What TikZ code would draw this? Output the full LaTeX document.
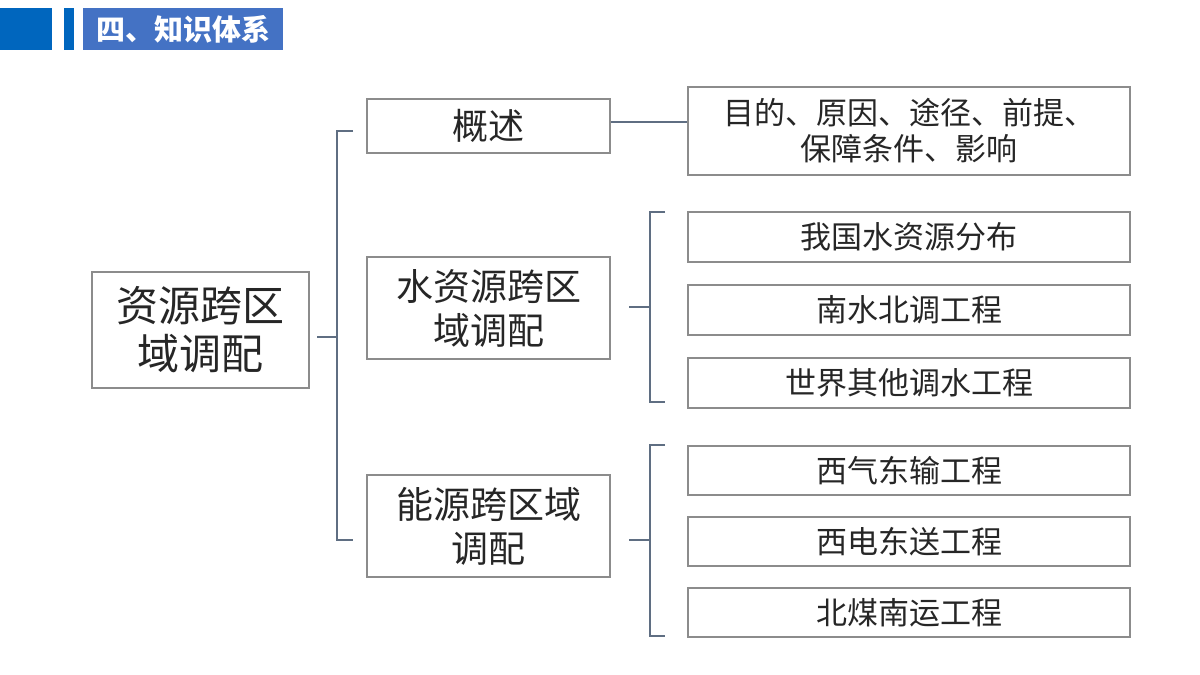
\documentclass[tikz,border=0pt]{standalone}
\usepackage{fontspec}
\setmainfont{Noto Sans CJK SC}
\definecolor{hdr}{RGB}{0,102,190}
\definecolor{lnc}{RGB}{95,110,130}
\begin{document}
\begin{tikzpicture}[x=1pt,y=-1pt,
  box/.style={draw=black!45,line width=1.2pt,inner sep=0pt,align=center,text=black!85},
  ln/.style={draw=lnc,line width=1.5pt}]
\useasboundingbox (0,0) rectangle (1200,675);
\fill[hdr] (0,8) rectangle (52,50);
\fill[hdr] (64,8) rectangle (74,50);
\node[fill={rgb,255:red,68;green,114;blue,196},minimum width=200pt,minimum height=42pt,inner sep=0pt,text=white,font=\fontsize{29}{32}\selectfont\bfseries] (title) at (183,29) {四、知识体系};
\node[box,minimum width=217pt,minimum height=116pt,font=\fontsize{42}{48}\selectfont] (root) at (200.5,330) {资源跨区\\域调配};
\node[box,minimum width=243pt,minimum height=54pt,font=\fontsize{36}{40}\selectfont] (a) at (488.5,126) {概述};
\node[box,minimum width=243pt,minimum height=102pt,font=\fontsize{37}{44}\selectfont] (b) at (488.5,308) {水资源跨区\\域调配};
\node[box,minimum width=243pt,minimum height=102pt,font=\fontsize{37}{44}\selectfont] (c) at (488.5,526) {能源跨区域\\调配};
\begin{scope}[every node/.style={box,minimum width=442pt,font=\fontsize{31}{36}\selectfont}]
\node[minimum height=88pt] (a1) at (909,131) {目的、原因、途径、前提、\\保障条件、影响};
\node[minimum height=50pt] (b1) at (909,237) {我国水资源分布};
\node[minimum height=50pt] (b2) at (909,310) {南水北调工程};
\node[minimum height=50pt] (b3) at (909,383) {世界其他调水工程};
\node[minimum height=49pt] (c1) at (909,470.5) {西气东输工程};
\node[minimum height=49pt] (c2) at (909,541.5) {西电东送工程};
\node[minimum height=49pt] (c3) at (909,612.5) {北煤南运工程};
\end{scope}
\coordinate (r0) at (317,337);
\coordinate (r1) at (337,337);
\coordinate (rt) at (353,131);
\coordinate (rb) at (353,540);
\draw[ln] (r0) -- (r1);
\draw[ln] (rt) -| (r1) |- (rb);
\draw[ln] (a.east |- 0,122) -- (a1.west |- 0,122);
\coordinate (s0) at (629,307);
\coordinate (s1) at (650,307);
\draw[ln] (s0) -- (s1);
\draw[ln] (665,212) -| (s1) |- (665,402);
\coordinate (t0) at (629,540);
\coordinate (t1) at (650,540);
\draw[ln] (t0) -- (t1);
\draw[ln] (665,445) -| (t1) |- (665,636);
\end{tikzpicture}
\end{document}
